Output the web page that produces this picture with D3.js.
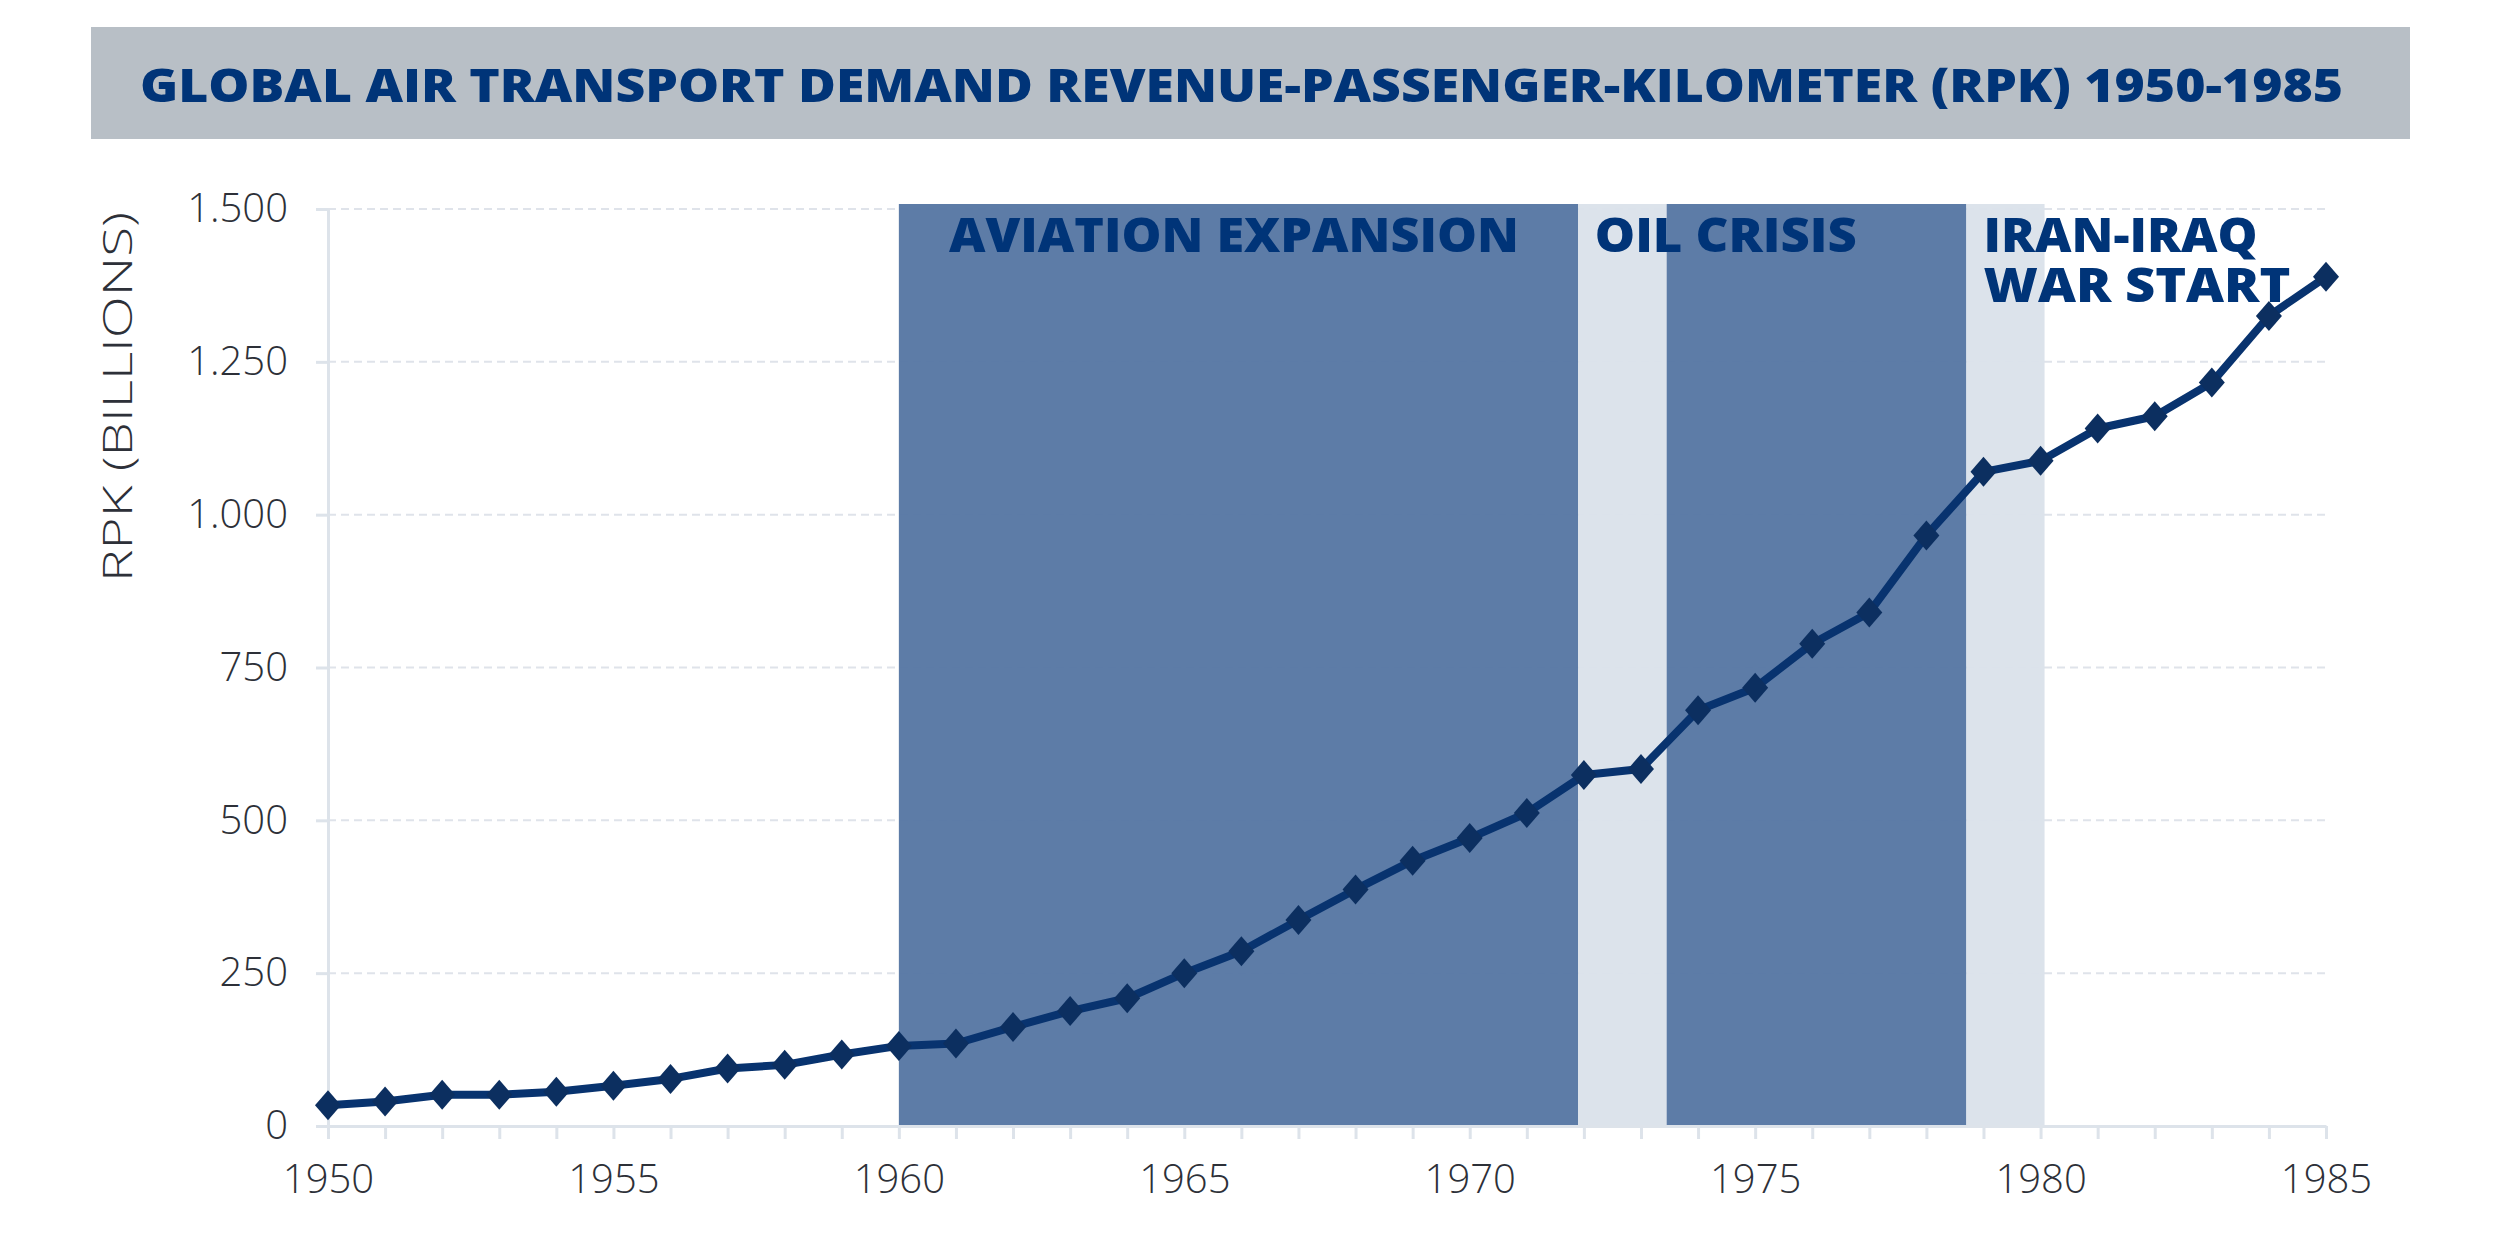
<!DOCTYPE html>
<html>
<head>
<meta charset="utf-8">
<script src="https://cdn.jsdelivr.net/npm/d3@7"></script>
<style>
  body { margin: 0; background: #fff; }
  svg { display: block; }
</style>
</head>
<body>
<svg id="chart"></svg>
<script>
// data
const years = d3.range(1950, 1986);
const rpk = [34, 40, 51, 51, 56, 66, 77, 94, 100, 117,
             131, 135, 162, 188, 209, 250, 286, 337, 387, 434,
             471, 512, 574, 584, 680, 717, 789, 840, 966, 1070,
             1088, 1141, 1161, 1216, 1325, 1389];
const yTicks = [0, 250, 500, 750, 1000, 1250, 1500];
const xLabelYears = [1950, 1955, 1960, 1965, 1970, 1975, 1980, 1985];

// shaded periods (start year, end year, kind)
const bandStarts = [1960, 1971.9, 1973.45, 1978.7];
const bandEnds = [1971.9, 1973.45, 1978.7, 1980.07];
const bandKinds = ['dark', 'light', 'dark', 'light'];

// period labels
const periodLines = [['AVIATION EXPANSION'], ['OIL CRISIS'], ['IRAN-IRAQ', 'WAR START']];
const periodYears = [1965.87, 1972.19, 1979.0];
const periodAnchors = ['middle', 'start', 'start'];

const title = 'GLOBAL AIR TRANSPORT DEMAND REVENUE-PASSENGER-KILOMETER (RPK) 1950-1985';

const width = 2500, height = 1250;
const margin = { top: 209, right: 174, bottom: 124, left: 328 };

const navy = '#003478';
const lineColor = '#08336f';
const axisColor = '#dde3ea';

const svg = d3.select('#chart')
  .attr('width', width)
  .attr('height', height)
  .attr('viewBox', `0 0 ${width} ${height}`);

const x = d3.scaleLinear()
  .domain([1950, 1985])
  .range([margin.left, width - margin.right]);

const y = d3.scaleLinear()
  .domain([0, 1500])
  .range([height - margin.bottom, margin.top]);

const fmt = d3.formatLocale({ decimal: ',', thousands: '.', grouping: [3], currency: ['', ''] }).format(',');

// title banner
svg.append('rect')
  .attr('x', 91).attr('y', 27)
  .attr('width', 2319).attr('height', 112)
  .attr('fill', '#b8bfc6');

svg.append('text')
  .attr('x', 140).attr('y', 102)
  .attr('textLength', 2203)
  .attr('lengthAdjust', 'spacingAndGlyphs')
  .style('font-family', '"Open Sans", sans-serif')
  .style('font-weight', 800)
  .style('font-size', '46px')
  .attr('fill', navy)
  .text(title);

// gridlines
svg.append('g')
  .selectAll('line')
  .data(yTicks.filter(d => d > 0))
  .join('line')
  .attr('x1', x(1950))
  .attr('x2', x(1985))
  .attr('y1', d => y(d))
  .attr('y2', d => y(d))
  .attr('stroke', '#dfe3ea')
  .attr('stroke-width', 2)
  .attr('stroke-dasharray', '8,5');

// period bands
const bandTop = y(1500) - 5;
svg.append('g')
  .selectAll('rect')
  .data(bandStarts.map((s, i) => ({ s, e: bandEnds[i], kind: bandKinds[i] })))
  .join('rect')
  .attr('x', d => x(d.s))
  .attr('width', d => x(d.e) - x(d.s))
  .attr('y', bandTop)
  .attr('height', y(0) - bandTop)
  .attr('fill', d => d.kind === 'dark' ? '#5878a4' : '#dbe2ea')
  .attr('fill-opacity', 0.97);

// axes
const xAxis = svg.append('g')
  .attr('transform', `translate(0,${y(0)})`)
  .call(d3.axisBottom(x)
    .tickValues(years)
    .tickSize(13)
    .tickSizeOuter(0)
    .tickPadding(26)
    .tickFormat(d => xLabelYears.includes(d) ? d : ''));

const yAxis = svg.append('g')
  .attr('transform', `translate(${margin.left},0)`)
  .call(d3.axisLeft(y)
    .tickValues(yTicks)
    .tickSize(12)
    .tickSizeOuter(0)
    .tickPadding(28)
    .tickFormat(fmt));

[xAxis, yAxis].forEach(g => {
  g.select('.domain').attr('stroke', axisColor).attr('stroke-width', 3);
  g.selectAll('.tick line').attr('stroke', axisColor).attr('stroke-width', 3);
  g.selectAll('.tick text')
    .attr('fill', '#2d3038')
    .style('font-family', '"Open Sans", sans-serif')
    .style('font-size', '40px')
    .style('font-weight', 300);
});

// y axis title
svg.append('text')
  .attr('transform', `translate(132,397) rotate(-90)`)
  .attr('text-anchor', 'middle')
  .attr('textLength', 370)
  .attr('lengthAdjust', 'spacingAndGlyphs')
  .attr('fill', '#2d3038')
  .style('font-family', '"Open Sans", sans-serif')
  .style('font-size', '40px')
  .style('font-weight', 300)
  .text('RPK (BILLIONS)');

// series line
const pts = years.map((yr, i) => ({ yr, v: rpk[i] }));

svg.append('path')
  .datum(pts)
  .attr('fill', 'none')
  .attr('stroke', lineColor)
  .attr('stroke-width', 8)
  .attr('stroke-linejoin', 'round')
  .attr('d', d3.line().x(d => x(d.yr)).y(d => y(d.v)));

// diamond markers
const dw = 13, dh = 15;
svg.append('g')
  .selectAll('path')
  .data(pts)
  .join('path')
  .attr('transform', d => `translate(${x(d.yr)},${y(d.v)})`)
  .attr('d', `M0,${-dh}L${dw},0L0,${dh}L${-dw},0Z`)
  .attr('fill', '#0c2f60');

// period labels (multi-line ones as tspans in one text)
const lbl = svg.append('g')
  .attr('fill', navy)
  .style('font-family', '"Open Sans", sans-serif')
  .style('font-weight', 800)
  .style('font-size', '48px');

const labelWidths = [[570], [262], [274, 307]];
periodLines.forEach((lines, i) => {
  const t = lbl.append('text')
    .attr('text-anchor', periodAnchors[i]);
  lines.forEach((s, j) => {
    t.append('tspan')
      .attr('x', x(periodYears[i]))
      .attr('y', 252 + j * 50)
      .attr('textLength', labelWidths[i][j])
      .attr('lengthAdjust', 'spacingAndGlyphs')
      .text(s);
  });
});
</script>
</body>
</html>
